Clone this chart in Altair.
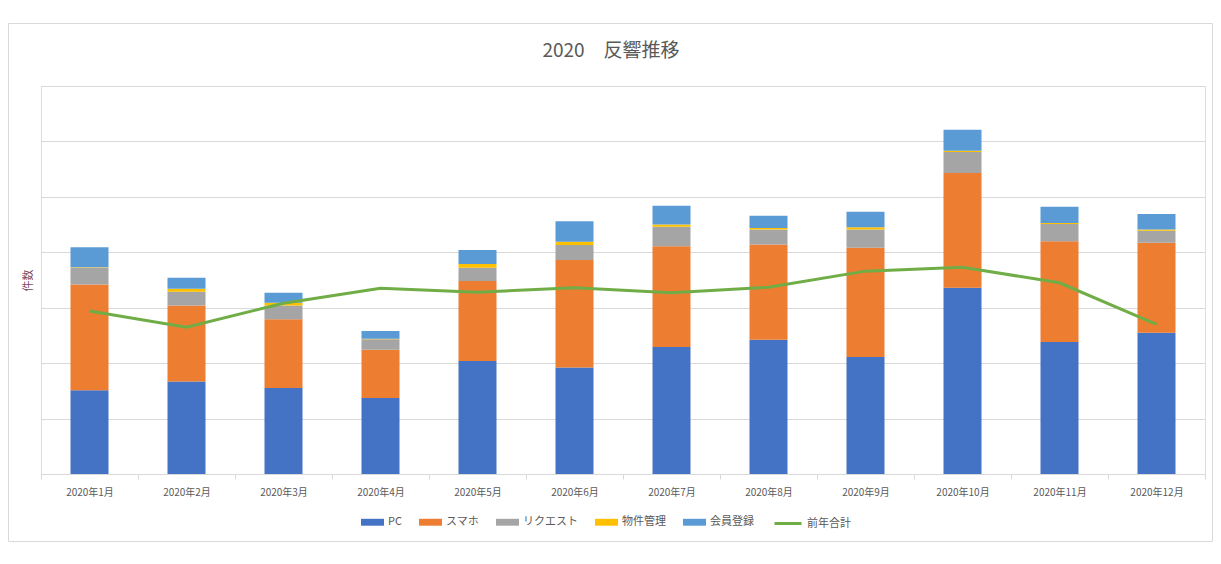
import altair as alt
import pandas as pd

months = ["2020年1月", "2020年2月", "2020年3月", "2020年4月", "2020年5月", "2020年6月",
          "2020年7月", "2020年8月", "2020年9月", "2020年10月", "2020年11月", "2020年12月"]

series = ["PC", "スマホ", "リクエスト", "物件管理", "会員登録"]
colors = ["#4472C4", "#ED7D31", "#A5A5A5", "#FFC000", "#5B9BD5"]

pc =      [151, 167, 155, 137, 204, 192, 229, 242, 211, 336, 238, 255]
smaho =   [191, 137, 124,  87, 144, 194, 182, 172, 197, 207, 182, 162]
request = [ 30,  25,  25,  19,  24,  27,  35,  27,  33,  38,  31,  22]
bukken =  [  1,   5,   5,   1,   7,   6,   4,   3,   4,   2,   2,   2]
kaiin =   [ 36,  20,  18,  14,  25,  37,  34,  22,  28,  38,  29,  28]
prev_total = [294, 265, 308, 335, 328, 336, 327, 337, 366, 373, 345, 270]

line_name = "前年合計"
line_color = "#70AD47"

FONT = "Noto Sans CJK JP"
TEXT = "#595959"
GRID = "#d9d9d9"

rows = []
for si, (name, vals) in enumerate(zip(series, [pc, smaho, request, bukken, kaiin])):
    for m, v in zip(months, vals):
        rows.append({"month": m, "series": name, "value": v, "idx": si})
bars_df = pd.DataFrame(rows)
line_df = pd.DataFrame({"month": months, "value": prev_total, "name": [line_name] * len(months)})

x_enc = alt.X(
    "month:N", sort=months, title=None,
    scale=alt.Scale(paddingInner=0, paddingOuter=0),
    axis=alt.Axis(labelAngle=0, labelFontSize=10, labelColor=TEXT, labelFont=FONT,
                  domainColor=GRID, tickColor=GRID, tickSize=5, tickBand="extent",
                  labelPadding=8, grid=False),
)
y_scale = alt.Scale(domain=[0, 700], nice=False)

bars = alt.Chart(bars_df).mark_bar(size=38).encode(
    x=x_enc,
    y=alt.Y("value:Q", stack="zero", scale=y_scale, title="件数",
            axis=alt.Axis(values=list(range(0, 701, 100)), labels=False, ticks=False,
                          domain=False, grid=True, gridColor=GRID,
                          titleFontSize=11, titleColor="#7a4a5c", titleFont=FONT,
                          titleFontWeight="normal", titlePadding=8)),
    fill=alt.Fill("series:N", sort=series,
                  scale=alt.Scale(domain=series, range=colors),
                  legend=alt.Legend(title=None, orient="none", direction="horizontal",
                                    legendX=320, legendY=424.5,
                                    symbolType="M-1,-0.3H1V0.3H-1Z", symbolSize=529,
                                    symbolStrokeWidth=0, labelFontSize=11, labelColor=TEXT,
                                    labelFont=FONT, columnPadding=17, labelOffset=4)),
    order=alt.Order("idx:Q", sort="ascending"),
)

line = alt.Chart(line_df).mark_line(strokeWidth=3).encode(
    x=alt.X("month:N", sort=months),
    y=alt.Y("value:Q", scale=y_scale),
    stroke=alt.Stroke("name:N", scale=alt.Scale(domain=[line_name], range=[line_color]),
                      legend=alt.Legend(title=None, orient="none", direction="horizontal",
                                        legendX=732, legendY=422.5, symbolType="stroke",
                                        symbolSize=729, symbolStrokeWidth=3,
                                        labelFontSize=11, labelColor=TEXT, labelFont=FONT,
                                        labelOffset=4)),
)

border = alt.Chart(pd.DataFrame({"a": [0]})).mark_rect(
    fill=None, stroke=GRID, strokeWidth=1
).encode(
    x=alt.value(-32.5), x2=alt.value(1171.5), y=alt.value(-62.5), y2=alt.value(455.5)
)

chart = alt.layer(border, bars, line).resolve_scale(fill="independent", stroke="independent").properties(
    width=1164, height=388,
    title=alt.TitleParams("2020　反響推移", fontSize=19, font=FONT, color=TEXT,
                          fontWeight="normal", anchor="middle", frame="group",
                          dx=-12, offset=-38),
    autosize=alt.AutoSizeParams(type="none"),
    padding={"left": 33, "top": 78, "right": 8, "bottom": 76},
).configure_view(stroke=None).configure(background="white")

chart.save("out.html", embed_options={"renderer": "svg", "actions": False})
